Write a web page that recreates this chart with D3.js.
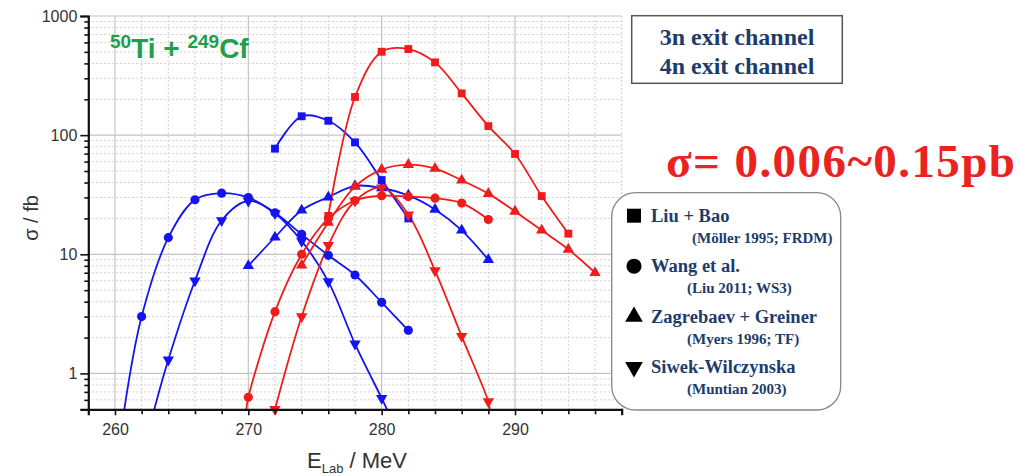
<!DOCTYPE html>
<html>
<head>
<meta charset="utf-8">
<script src="https://cdn.jsdelivr.net/npm/d3@7"></script>
<style>
  html, body { margin: 0; padding: 0; background: #fff; }
  svg { display: block; }
</style>
</head>
<body>
<svg id="chart" width="1020" height="476"></svg>
<script>
// Evaporation-residue cross sections for 50Ti + 249Cf (3n and 4n channels)

// --- 3n exit channel (blue) ---
const liuBao3nE   = [272, 274, 276, 278, 280, 282];
const liuBao3n    = [77, 144, 132, 87, 42, 20];

const wang3nE     = [262, 264, 266, 268, 270, 272, 274, 276, 278, 280, 282];
const wang3n      = [3.0, 13.8, 28.7, 32.6, 29.9, 22.3, 14.7, 9.8, 6.7, 3.95, 2.3];

const zagreb3nE   = [270, 272, 274, 276, 278, 280, 282, 284, 286, 288];
const zagreb3n    = [8.0, 13.9, 23.4, 30.2, 37.5, 36, 31.2, 23.8, 15.9, 9.0];

const siwek3nE    = [264, 266, 268, 270, 272, 274, 276, 278, 280];
const siwek3n     = [1.3, 6.0, 19.2, 28, 22, 12.9, 5.9, 1.77, 0.62];

// --- 4n exit channel (red) ---
const liuBao4nE   = [276, 278, 280, 282, 284, 286, 288, 290, 292, 294];
const liuBao4n    = [21, 209, 501, 528, 408, 224, 119, 69.5, 30.8, 14.9];

const wang4nE     = [270, 272, 274, 276, 278, 280, 282, 284, 286, 288];
const wang4n      = [0.63, 3.3, 10, 20, 28.3, 31, 30.5, 29.6, 26.9, 19.6];

const zagreb4nE   = [274, 276, 278, 280, 282, 284, 286, 288, 290, 292, 294, 296];
const zagreb4n    = [8.1, 18.5, 37, 51.4, 56.5, 52.4, 41.8, 32.3, 22.9, 15.9, 11.0, 7.0];

const siwek4nE    = [272, 274, 276, 278, 280, 282, 284, 286, 288];
const siwek4n     = [0.5, 3.0, 11.9, 28, 36.2, 21.5, 7.3, 2.05, 0.58];

// Where the fitted curves leave the plot past the last marker [E, sigma]
const tailWang3nLeft   = [260.7, 0.5];
const tailSiwek3nLeft  = [262.95, 0.5];
const tailSiwek3nRight = [280.4, 0.5];
const tailWang4nLeft   = [269.85, 0.5];
const tailSiwek4nRight = [288.1, 0.5];

// Axis ticks
const xMajorTicks = [260, 270, 280, 290];
const yMajorTicks = [1, 10, 100, 1000];

// Legend entries
const legendNames = ["Liu + Bao", "Wang et al.", "Zagrebaev + Greiner", "Siwek-Wilczynska"];
const legendRefs  = ["(Möller 1995; FRDM)", "(Liu 2011; WS3)", "(Myers 1996; TF)", "(Muntian 2003)"];
const channelLabels = ["3n exit channel", "4n exit channel"];

const BLUE = "#1414f0";
const RED = "#f21b1b";

const svg = d3.select("#chart");
const plot = { left: 88.3, right: 621.7, top: 16, bottom: 409.3 };

const x = d3.scaleLinear().domain([258, 298]).range([plot.left, plot.right]);
const y = d3.scaleLog().domain([0.5, 1000]).range([plot.bottom, plot.top]);

// ---- grid ----
const xMinor = d3.range(258, 298.1, 2).filter(v => !xMajorTicks.includes(v));
const yMinor = [];
[0.1, 1, 10, 100].forEach(d => { for (let k = 2; k <= 9; k++) { const v = d * k; if (v >= 0.5 && v < 1000) yMinor.push(v); } });

const grid = svg.append("g");
grid.selectAll(".xm").data(xMinor).join("line")
  .attr("x1", d => x(d)).attr("x2", d => x(d))
  .attr("y1", plot.top).attr("y2", plot.bottom)
  .attr("stroke", "#cfcfcf").attr("stroke-width", 1).attr("stroke-dasharray", "2,2");
grid.selectAll(".ym").data(yMinor).join("line")
  .attr("x1", plot.left).attr("x2", plot.right)
  .attr("y1", d => y(d)).attr("y2", d => y(d))
  .attr("stroke", "#cfcfcf").attr("stroke-width", 1).attr("stroke-dasharray", "2,2");
grid.selectAll(".xM").data(xMajorTicks).join("line")
  .attr("x1", d => x(d)).attr("x2", d => x(d))
  .attr("y1", plot.top).attr("y2", plot.bottom)
  .attr("stroke", "#c4c4c4").attr("stroke-width", 1.2);
grid.selectAll(".yM").data(yMajorTicks).join("line")
  .attr("x1", plot.left).attr("x2", plot.right)
  .attr("y1", d => y(d)).attr("y2", d => y(d))
  .attr("stroke", "#c4c4c4").attr("stroke-width", 1.2);

// ---- curves and markers ----
svg.append("clipPath").attr("id", "clip")
  .append("rect").attr("x", plot.left).attr("y", plot.top)
  .attr("width", plot.right - plot.left).attr("height", plot.bottom - plot.top);

const series = [
  { E: liuBao3nE, s: liuBao3n, color: BLUE, shape: "square" },
  { E: wang3nE,   s: wang3n,   color: BLUE, shape: "circle", left: tailWang3nLeft },
  { E: zagreb3nE, s: zagreb3n, color: BLUE, shape: "up" },
  { E: siwek3nE,  s: siwek3n,  color: BLUE, shape: "down", left: tailSiwek3nLeft, right: tailSiwek3nRight },
  { E: liuBao4nE, s: liuBao4n, color: RED,  shape: "square" },
  { E: wang4nE,   s: wang4n,   color: RED,  shape: "circle", left: tailWang4nLeft },
  { E: zagreb4nE, s: zagreb4n, color: RED,  shape: "up" },
  { E: siwek4nE,  s: siwek4n,  color: RED,  shape: "down", right: tailSiwek4nRight }
];

const line = d3.line()
  .x(d => x(d[0])).y(d => y(d[1]))
  .curve(d3.curveCatmullRom.alpha(0.5));

const symbolOf = {
  square: d3.symbol().type(d3.symbolSquare).size(62),
  circle: d3.symbol().type(d3.symbolCircle).size(66),
  up:     d3.symbol().type(d3.symbolTriangle).size(56),
  down:   d3.symbol().type(d3.symbolTriangle).size(56)
};

const curves = svg.append("g").attr("clip-path", "url(#clip)");
const marks = svg.append("g");

series.forEach(sr => {
  const pts = sr.E.map((e, i) => [e, sr.s[i]]);
  const path = (sr.left ? [sr.left] : []).concat(pts, sr.right ? [sr.right] : []);
  curves.append("path").datum(path)
    .attr("d", line).attr("fill", "none")
    .attr("stroke", sr.color).attr("stroke-width", 1.8);
  marks.selectAll(null).data(pts).join("path")
    .attr("d", symbolOf[sr.shape])
    .attr("transform", d => `translate(${x(d[0])},${y(d[1])})` + (sr.shape === "down" ? " rotate(180)" : ""))
    .attr("fill", sr.color);
});

// ---- axes ----
const axisFont = "'Liberation Sans', Arial, sans-serif";

const yAxis = svg.append("g").attr("transform", `translate(${plot.left},0)`)
  .call(d3.axisLeft(y).tickValues(yMajorTicks).tickFormat(d3.format("d")).tickSize(8).tickPadding(3));
svg.append("g").attr("transform", `translate(${plot.left},0)`)
  .call(d3.axisLeft(y).tickValues(yMinor).tickFormat("").tickSize(4))
  .call(g => g.select(".domain").remove());

const xAxis = svg.append("g").attr("transform", `translate(0,${plot.bottom})`)
  .call(d3.axisBottom(x).tickValues(xMajorTicks).tickFormat(d3.format("d")).tickSize(6).tickPadding(8));
svg.append("g").attr("transform", `translate(0,${plot.bottom})`)
  .call(d3.axisBottom(x).tickValues(xMinor).tickFormat("").tickSize(5))
  .call(g => g.select(".domain").remove());

[yAxis, xAxis].forEach(a => {
  a.select(".domain").attr("stroke", "#111").attr("stroke-width", 2.2);
  a.selectAll(".tick text").attr("font-family", axisFont).attr("font-size", 16).attr("fill", "#333");
});
svg.selectAll(".tick line").attr("stroke", "#111").attr("stroke-width", 1.6);

// axis titles
svg.append("text")
  .attr("transform", "translate(38,218) rotate(-90)")
  .attr("text-anchor", "middle")
  .attr("font-family", axisFont).attr("font-size", 20).attr("fill", "#333")
  .text("σ / fb");

const xt = svg.append("text")
  .attr("x", 307).attr("y", 468)
  .attr("font-family", axisFont).attr("font-size", 22).attr("fill", "#333");
xt.append("tspan").text("E");
xt.append("tspan").attr("font-size", 13).attr("dy", 5).text("Lab");
xt.append("tspan").attr("dy", -5).text(" / MeV");

// reaction label
const rx = svg.append("text")
  .attr("x", 110).attr("y", 58)
  .attr("font-family", axisFont).attr("font-weight", "bold")
  .attr("font-size", 28).attr("fill", "#1f9e4c");
rx.append("tspan").attr("font-size", 19).attr("dy", -10).text("50");
rx.append("tspan").attr("dy", 10).text("Ti + ");
rx.append("tspan").attr("font-size", 19).attr("dy", -10).text("249");
rx.append("tspan").attr("dy", 10).text("Cf");

// ---- channel box ----
const serif = "'Liberation Serif', 'Times New Roman', serif";
const NAVY = "#1d3c6b";
svg.append("rect")
  .attr("x", 631.7).attr("y", 15.7).attr("width", 210.6).attr("height", 67.6)
  .attr("fill", "#fff").attr("stroke", "#555").attr("stroke-width", 1.5);
svg.selectAll(".chan").data(channelLabels).join("text")
  .attr("x", 737).attr("y", (d, i) => 45 + i * 29)
  .attr("text-anchor", "middle")
  .attr("font-family", serif).attr("font-weight", "bold").attr("font-size", 24)
  .attr("fill", NAVY).text(d => d);

// ---- cross-section range ----
svg.append("text")
  .attr("x", 666).attr("y", 177)
  .attr("font-family", serif).attr("font-weight", "bold").attr("font-size", 47)
  .attr("textLength", 349).attr("lengthAdjust", "spacing")
  .attr("fill", "#ea2320")
  .text("σ= 0.006~0.15pb");

// ---- legend ----
svg.append("rect")
  .attr("x", 611.7).attr("y", 192.7).attr("width", 229).attr("height", 217.3)
  .attr("rx", 24).attr("ry", 24)
  .attr("fill", "#fff").attr("stroke", "#888").attr("stroke-width", 1.3);

const legendShapes = ["square", "circle", "up", "down"];
const legendSym = {
  square: d3.symbol().type(d3.symbolSquare).size(196),
  circle: d3.symbol().type(d3.symbolCircle).size(180),
  up:     d3.symbol().type(d3.symbolTriangle).size(135),
  down:   d3.symbol().type(d3.symbolTriangle).size(135)
};
legendNames.forEach((name, i) => {
  const yb = 221.7 + i * 50.5;
  const sh = legendShapes[i];
  svg.append("path")
    .attr("d", legendSym[sh])
    .attr("transform", `translate(634,${yb - 6})` + (sh === "down" ? " rotate(180)" : ""))
    .attr("fill", "#000");
  svg.append("text")
    .attr("x", 651).attr("y", yb)
    .attr("font-family", serif).attr("font-weight", "bold").attr("font-size", 18.5)
    .attr("fill", NAVY).text(name);
  svg.append("text")
    .attr("x", i === 0 ? 692 : 687).attr("y", yb + 21)
    .attr("font-family", serif).attr("font-weight", "bold").attr("font-size", 15)
    .attr("fill", NAVY).text(legendRefs[i]);
});
</script>
</body>
</html>
